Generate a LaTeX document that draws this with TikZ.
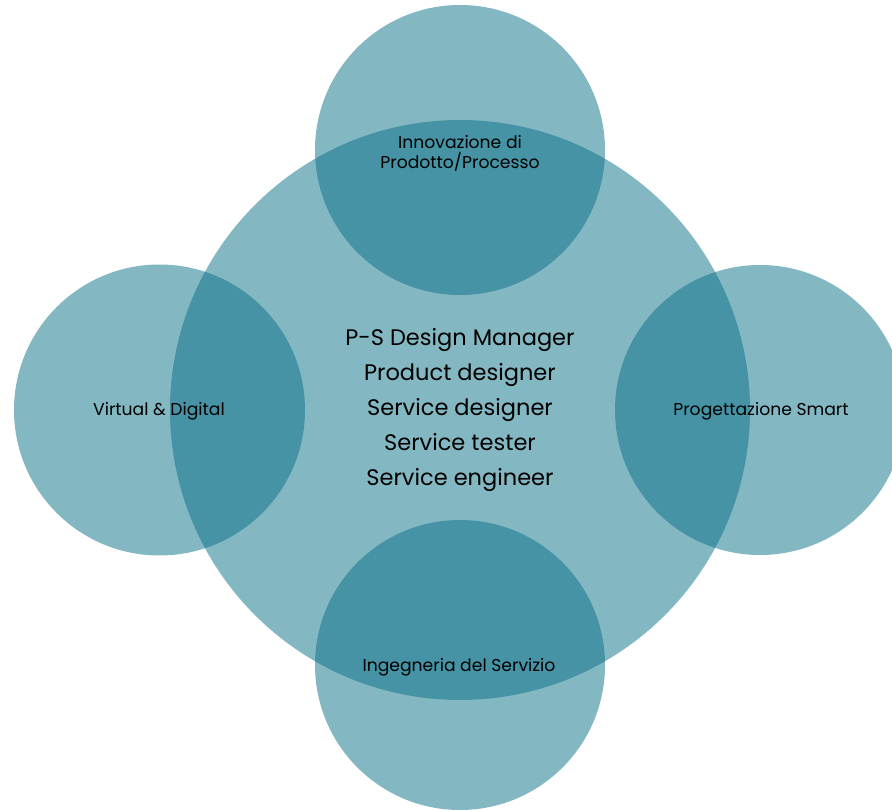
\documentclass[tikz,border=0pt]{standalone}
\usepackage{fontspec}
\setmainfont{Poppins}
\definecolor{teal}{RGB}{8,112,134}
\begin{document}
\begin{tikzpicture}[x=1pt,y=-1pt,
  bubble/.style={circle,fill=teal,fill opacity=0.5,draw=none,inner sep=0pt},
  lbl/.style={align=center,text=black,font=\fontsize{17.2}{20}\selectfont},
  main/.style={align=center,text=black,font=\fontsize{22.5}{35}\selectfont}]
\useasboundingbox (0,0) rectangle (892,810);
\begin{scope}
\clip (0,0) rectangle (892,810);
\node[bubble,minimum size=580pt] (c) at (460,410) {};
\node[bubble,minimum size=290pt] (t) at (460,150) {};
\node[bubble,minimum size=290pt] (b) at (460,665) {};
\node[bubble,minimum size=291pt] (l) at (159.5,410) {};
\node[bubble,minimum size=290pt] (r) at (760,410) {};
\end{scope}
\node[main] (ct) at (460,410) {P-S Design Manager\\Product designer\\Service designer\\Service tester\\Service engineer};
\node[lbl] (tt) at (460,153) {Innovazione di\\Prodotto/Processo};
\node[lbl] (lt) at (159,411) {Virtual \& Digital};
\node[lbl] (rt) at (761,411) {Progettazione Smart};
\node[lbl] (bt) at (459,667) {Ingegneria del Servizio};
\end{tikzpicture}
\end{document}
